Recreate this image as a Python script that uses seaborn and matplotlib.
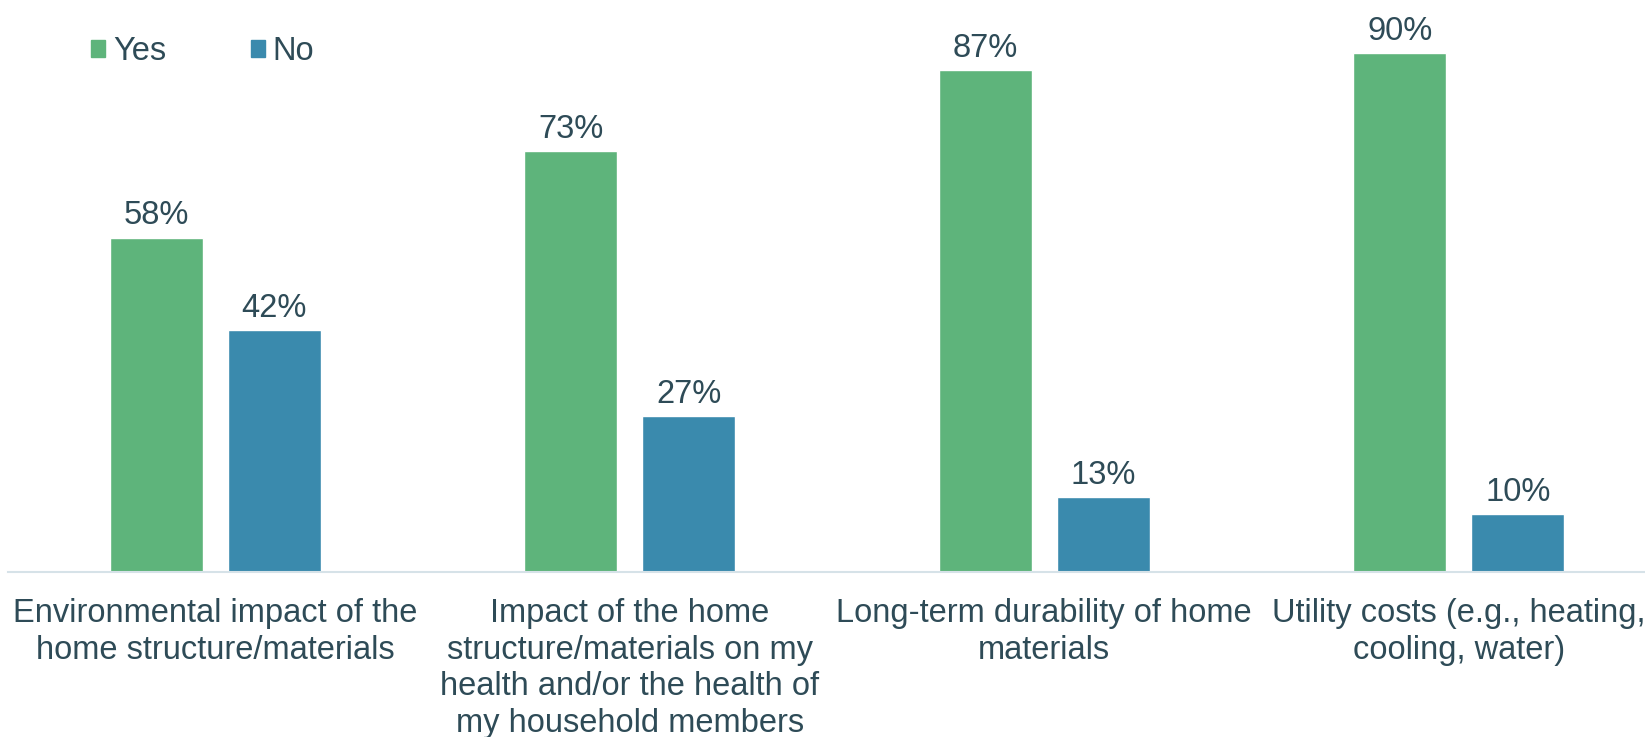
import matplotlib
matplotlib.use("Agg")
import matplotlib.pyplot as plt
import seaborn as sns
import pandas as pd
from matplotlib.patches import Patch

categories = [
    "Environmental impact of the\nhome structure/materials",
    "Impact of the home\nstructure/materials on my\nhealth and/or the health of\nmy household members",
    "Long-term durability of home\nmaterials",
    "Utility costs (e.g., heating,\ncooling, water)",
]
yes_vals = [58, 73, 87, 90]
no_vals  = [42, 27, 13, 10]
series   = ["Yes", "No"]

GREEN = "#5EB47B"
BLUE  = "#3A8AAD"
TEXT  = "#2E4B57"
AXIS  = "#D6E2E8"
FS    = 23.5

df = pd.DataFrame({
    "category": categories * 2,
    "answer":   ["Yes"] * len(categories) + ["No"] * len(categories),
    "value":    yes_vals + no_vals,
})

sns.set_style("white")
plt.rcParams["font.family"] = ["Liberation Sans", "DejaVu Sans"]

fig = plt.figure(figsize=(16.45, 7.37), dpi=100)
ax = fig.add_axes([8 / 1645, 1 - 572 / 737, 1658 / 1645, 572 / 737])

sns.barplot(data=df, x="category", y="value", hue="answer", hue_order=series,
            palette=[GREEN, BLUE], width=0.57, gap=0.214, saturation=1,
            legend=False, ax=ax)

for c in ax.containers:
    ax.bar_label(c, labels=[f"{v:.0f}%" for v in c.datavalues],
                 padding=4.5, fontsize=FS, color=TEXT)

ax.set_ylim(0, 99.2)
ax.set_xlim(-0.5, len(categories) - 0.5)
ax.set_xlabel("")
ax.set_ylabel("")
ax.set_yticks([])
ax.tick_params(axis="x", length=0, pad=19, labelsize=FS, labelcolor=TEXT)
for lbl in ax.get_xticklabels():
    lbl.set_linespacing(1.23)
    lbl.set_verticalalignment("top")
for s in ["top", "right", "left"]:
    ax.spines[s].set_visible(False)
ax.spines["bottom"].set_color(AXIS)
ax.spines["bottom"].set_linewidth(1.5)

handles = [Patch(color=GREEN, label="Yes"), Patch(color=BLUE, label="No")]
leg = fig.legend(handles=handles, loc="center left",
                 bbox_to_anchor=(91 / 1645, 1 - 52 / 737),
                 ncol=2, frameon=False, fontsize=FS, handlelength=0.42,
                 handleheight=0.42, handletextpad=0.25, columnspacing=2.6,
                 borderaxespad=0, borderpad=0)
for t in leg.get_texts():
    t.set_color(TEXT)

fig.savefig("out.png", dpi=100)
